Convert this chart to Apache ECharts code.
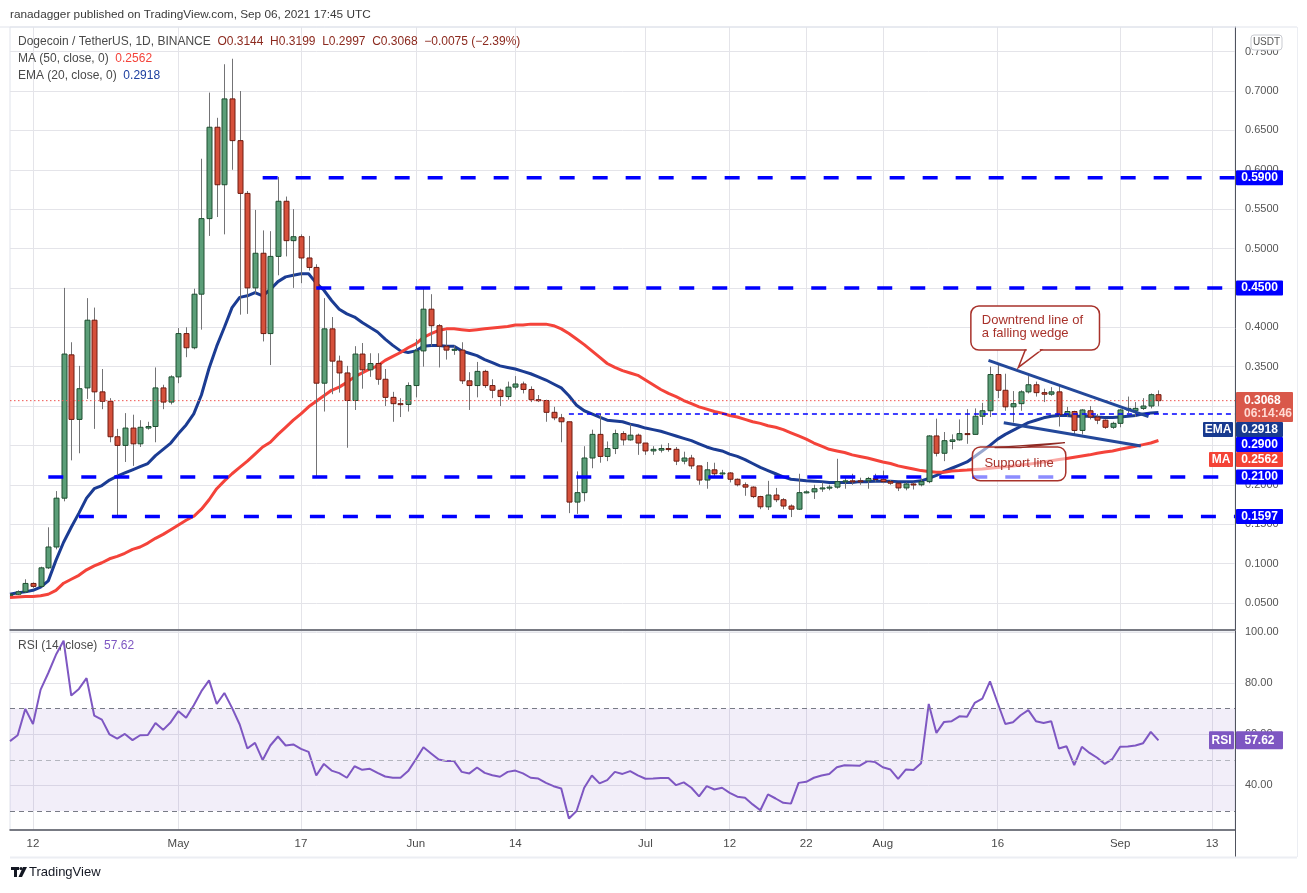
<!DOCTYPE html>
<html><head><meta charset="utf-8">
<script src="https://cdn.jsdelivr.net/npm/echarts@6/dist/echarts.min.js"></script>
<style>html,body{margin:0;padding:0;background:#fff}#c{width:1307px;height:893px}</style>
</head><body><div id="c"></div>
<script>
// ---------- DATA (daily, Apr 9 2021 -> Sep 6 2021) ----------
const startDate = [2021, 3, 9];
const categoryCount = 161; // through Sep 16 (empty space on the right)
const openP = [
0.060,0.061,0.064,0.0747,0.071,0.0945,0.121,0.183,0.365,0.283,
0.323,0.409,0.318,0.306,0.261,0.250,0.272,0.252,0.272,0.274,
0.323,0.305,0.337,0.392,0.374,0.442,0.538,0.654,0.581,0.690,
0.637,0.570,0.450,0.494,0.392,0.490,0.560,0.510,0.515,0.488,
0.476,0.329,0.398,0.357,0.342,0.307,0.366,0.346,0.354,0.334,
0.311,0.303,0.302,0.326,0.370,0.423,0.402,0.376,0.371,0.371,
0.332,0.326,0.344,0.326,0.320,0.312,0.324,0.328,0.321,0.308,
0.307,0.292,0.285,0.280,0.178,0.190,0.234,0.264,0.236,0.246,
0.265,0.257,0.263,0.253,0.243,0.244,0.246,0.245,0.230,0.234,
0.224,0.206,0.219,0.214,0.215,0.207,0.200,0.197,0.185,0.172,
0.187,0.181,0.173,0.169,0.190,0.191,0.195,0.196,0.197,0.204,
0.205,0.205,0.205,0.208,0.207,0.204,0.202,0.196,0.201,0.200,
0.204,0.262,0.240,0.255,0.257,0.265,0.264,0.287,0.294,0.340,
0.320,0.299,0.303,0.318,0.327,0.317,0.315,0.318,0.289,0.293,
0.269,0.294,0.286,0.282,0.273,0.278,0.295,0.294,0.297,0.300,
0.3144];
const highP = [
0.062,0.066,0.080,0.076,0.096,0.146,0.192,0.450,0.381,0.351,
0.437,0.425,0.347,0.310,0.271,0.291,0.289,0.282,0.280,0.349,
0.327,0.339,0.399,0.400,0.449,0.614,0.698,0.666,0.734,0.741,
0.700,0.573,0.549,0.523,0.522,0.591,0.566,0.550,0.518,0.516,
0.480,0.437,0.413,0.364,0.351,0.376,0.380,0.367,0.367,0.347,
0.318,0.310,0.330,0.385,0.451,0.442,0.404,0.396,0.377,0.381,
0.343,0.356,0.346,0.334,0.322,0.331,0.338,0.331,0.325,0.314,
0.308,0.299,0.290,0.280,0.217,0.249,0.270,0.290,0.255,0.270,
0.268,0.277,0.265,0.253,0.249,0.251,0.253,0.248,0.242,0.238,
0.224,0.229,0.228,0.219,0.216,0.208,0.203,0.198,0.186,0.205,
0.196,0.183,0.175,0.214,0.193,0.200,0.203,0.200,0.233,0.210,
0.214,0.209,0.210,0.214,0.218,0.206,0.202,0.203,0.203,0.208,
0.263,0.284,0.267,0.264,0.283,0.296,0.297,0.304,0.350,0.352,
0.341,0.319,0.320,0.338,0.331,0.322,0.324,0.327,0.299,0.294,
0.296,0.300,0.290,0.283,0.280,0.296,0.312,0.305,0.310,0.316,
0.3199];
const lowP = [
0.059,0.060,0.063,0.069,0.070,0.093,0.118,0.179,0.231,0.240,
0.309,0.271,0.296,0.254,0.160,0.229,0.224,0.248,0.270,0.254,
0.296,0.302,0.329,0.362,0.372,0.397,0.516,0.540,0.518,0.600,
0.416,0.417,0.442,0.382,0.352,0.466,0.490,0.450,0.456,0.472,
0.210,0.293,0.315,0.317,0.247,0.295,0.322,0.337,0.327,0.300,
0.280,0.286,0.293,0.311,0.350,0.376,0.349,0.359,0.365,0.328,
0.295,0.311,0.323,0.310,0.300,0.308,0.321,0.316,0.305,0.305,
0.280,0.282,0.254,0.164,0.163,0.179,0.221,0.228,0.230,0.239,
0.250,0.256,0.238,0.238,0.238,0.241,0.242,0.225,0.226,0.220,
0.200,0.195,0.209,0.210,0.203,0.198,0.186,0.183,0.169,0.168,
0.178,0.169,0.159,0.168,0.189,0.182,0.191,0.193,0.195,0.195,
0.200,0.200,0.195,0.204,0.202,0.200,0.192,0.193,0.194,0.198,
0.202,0.236,0.230,0.245,0.256,0.252,0.264,0.276,0.286,0.310,
0.294,0.279,0.294,0.316,0.312,0.305,0.313,0.274,0.286,0.264,
0.264,0.283,0.277,0.271,0.271,0.273,0.291,0.286,0.295,0.297,
0.2997];
const closeP = [
0.061,0.064,0.0747,0.071,0.0945,0.121,0.183,0.366,0.283,0.322,
0.409,0.318,0.306,0.261,0.250,0.272,0.252,0.273,0.274,0.323,
0.305,0.337,0.392,0.374,0.442,0.538,0.654,0.581,0.690,0.637,
0.570,0.450,0.494,0.392,0.490,0.560,0.510,0.515,0.488,0.476,
0.329,0.398,0.357,0.342,0.307,0.366,0.346,0.354,0.334,0.311,
0.303,0.302,0.326,0.370,0.423,0.402,0.376,0.371,0.372,0.332,
0.326,0.344,0.326,0.320,0.312,0.324,0.328,0.321,0.308,0.307,
0.292,0.285,0.280,0.178,0.190,0.234,0.264,0.236,0.246,0.265,
0.257,0.263,0.253,0.243,0.245,0.246,0.2455,0.230,0.234,0.224,
0.206,0.219,0.214,0.215,0.207,0.200,0.197,0.185,0.172,0.187,
0.181,0.173,0.169,0.190,0.191,0.195,0.196,0.197,0.204,0.205,
0.204,0.204,0.208,0.207,0.204,0.202,0.196,0.201,0.200,0.204,
0.262,0.240,0.256,0.257,0.265,0.264,0.287,0.294,0.340,0.320,
0.299,0.303,0.318,0.327,0.317,0.315,0.318,0.289,0.293,0.269,
0.295,0.286,0.282,0.273,0.278,0.295,0.297,0.297,0.300,0.3144,
0.3068];
const ema20 = [
0.061,0.063,0.064,0.066,0.070,0.078,0.104,0.127,0.146,0.164,
0.183,0.195,0.199,0.206,0.211,0.215,0.219,0.223,0.227,0.237,
0.245,0.253,0.265,0.276,0.290,0.314,0.348,0.376,0.400,0.425,
0.438,0.440,0.444,0.440,0.448,0.458,0.464,0.466,0.468,0.468,
0.456,0.447,0.434,0.423,0.417,0.413,0.406,0.400,0.394,0.385,
0.377,0.370,0.368,0.370,0.376,0.377,0.377,0.376,0.376,0.370,
0.367,0.364,0.359,0.355,0.351,0.349,0.347,0.344,0.341,0.337,
0.333,0.328,0.323,0.313,0.301,0.294,0.290,0.286,0.282,0.281,
0.280,0.277,0.275,0.272,0.270,0.268,0.265,0.262,0.259,0.256,
0.252,0.248,0.245,0.243,0.239,0.236,0.232,0.227,0.222,0.218,
0.214,0.210,0.207,0.206,0.205,0.2045,0.204,0.203,0.203,0.203,
0.203,0.204,0.204,0.2045,0.2045,0.2045,0.204,0.204,0.204,0.205,
0.208,0.212,0.217,0.221,0.225,0.229,0.236,0.243,0.250,0.258,
0.264,0.269,0.274,0.279,0.282,0.285,0.287,0.288,0.288,0.287,
0.287,0.287,0.286,0.2855,0.2855,0.286,0.287,0.288,0.290,0.291,
0.2918];
const ma50 = [
0.057,0.0575,0.058,0.058,0.059,0.061,0.066,0.075,0.080,0.085,
0.092,0.097,0.101,0.106,0.109,0.113,0.118,0.121,0.126,0.132,
0.137,0.143,0.149,0.155,0.160,0.169,0.181,0.195,0.205,0.214,
0.222,0.230,0.239,0.248,0.254,0.264,0.273,0.282,0.290,0.299,
0.306,0.313,0.320,0.324,0.330,0.337,0.342,0.347,0.351,0.358,
0.363,0.368,0.374,0.379,0.387,0.392,0.396,0.398,0.398,0.397,
0.396,0.397,0.398,0.399,0.400,0.401,0.403,0.403,0.404,0.404,
0.404,0.402,0.398,0.392,0.385,0.378,0.370,0.362,0.354,0.349,
0.345,0.342,0.339,0.333,0.327,0.321,0.316,0.312,0.307,0.303,
0.299,0.296,0.293,0.291,0.288,0.286,0.283,0.280,0.278,0.275,
0.273,0.270,0.266,0.262,0.258,0.253,0.249,0.245,0.243,0.241,
0.238,0.236,0.234,0.2315,0.229,0.227,0.224,0.222,0.220,0.218,
0.217,0.216,0.216,0.2175,0.218,0.2187,0.2195,0.220,0.221,0.222,
0.223,0.2237,0.225,0.226,0.2275,0.229,0.2305,0.232,0.2335,0.235,
0.2365,0.238,0.240,0.2415,0.243,0.245,0.247,0.249,0.251,0.253,
0.2562];
const rsi14 = [
57.3,59.6,69.9,64.0,77.4,83.9,91.0,96.5,75.1,77.7,
81.9,67.3,65.7,59.9,58.3,60.1,57.7,59.6,59.7,64.4,
61.7,64.7,69.0,66.4,71.3,76.8,81.0,71.8,76.1,70.3,
63.8,54.4,56.6,49.9,55.6,59.1,55.6,56.0,54.3,53.1,
43.9,48.4,45.8,44.8,43.0,47.5,46.1,46.5,44.9,43.5,
43.0,43.0,45.6,50.1,54.9,52.5,50.1,49.5,49.5,45.3,
44.7,47.0,44.9,44.0,43.4,45.3,45.8,44.7,43.0,42.7,
41.0,39.7,38.8,27.1,30.0,39.1,43.9,40.8,42.1,45.3,
44.5,45.6,43.9,42.6,42.7,42.9,42.9,40.1,41.2,39.1,
35.7,39.7,38.4,39.1,37.1,35.6,35.2,32.6,30.3,36.5,
34.9,33.2,32.9,41.0,41.4,43.0,43.9,44.5,47.1,47.9,
47.8,47.7,49.5,49.1,47.1,46.2,42.6,46.2,46.0,48.7,
71.8,60.5,64.8,65.1,67.0,66.8,72.2,73.9,80.6,72.2,
64.0,64.7,67.4,69.4,65.1,64.4,65.1,54.4,55.3,47.9,
55.1,52.7,50.8,48.4,50.4,55.1,55.2,55.6,56.5,60.9,
57.62];
// horizontal levels drawn by the author
const levelValues = [0.59, 0.45, 0.21, 0.1597];
const levelStartIdx = [33, 40, 5, 9];
const wedgeBreakLevel = 0.29;
const wedgeBreakStart = 73;
// falling wedge trendlines [dayIndex, price]
const wedgeUpper = [[127.8, 0.358], [148.7, 0.2865]];
const wedgeLower = [[129.8, 0.2788], [147.7, 0.2492]];
// axis ticks
const priceTicks = [0.05,0.10,0.15,0.20,0.25,0.30,0.35,0.40,0.45,0.50,0.55,0.60,0.65,0.70,0.75];
const rsiTicks = [40, 60, 80, 100];
const xTickIdx = [3, 22, 38, 53, 66, 83, 94, 104, 114, 129, 145, 157];
const xTickLabels = ['12','May','17','Jun','14','Jul','12','22','Aug','16','Sep','13'];
const countdownText = '06:14:46';

// ---------- BUILD ----------
const cats = [];
for (let k = 0; k < categoryCount; k++) {
  const d = new Date(Date.UTC(startDate[0], startDate[1], startDate[2] + k));
  cats.push(d.toISOString().slice(0, 10));
}
const tickSet = new Set(xTickIdx);
const labelMap = {}; xTickIdx.forEach((i, k) => labelMap[i] = xTickLabels[k]);
const lastIdx = closeP.length - 1;
const lastClose = closeP[lastIdx];
const candleData = openP.map((o, i) => [i, o, highP[i], lowP[i], closeP[i]]);

const PMIN = 0.01559, PMAX = 0.7813;
const RMIN = 22.6, RMAX = 100.3;
const FONT = '"Liberation Sans", Arial, sans-serif';
const GRID = '#e4e4e9';
const EMA_C = '#1b3c93', MA_C = '#f4433a', RSI_C = '#7e57c2', LVL_C = '#0000ff';
const lastX = categoryCount - 1;

function renderCandle(params, api) {
  const i = api.value(0), o = api.value(1), h = api.value(2), l = api.value(3), c = api.value(4);
  const po = api.coord([i, o]), pc = api.coord([i, c]), ph = api.coord([i, h]), pl = api.coord([i, l]);
  const x = Math.round(po[0]) + 0.5;
  const up = c >= o;
  const top = Math.min(po[1], pc[1]), bot = Math.max(po[1], pc[1]);
  return { type: 'group', children: [
    { type: 'line', shape: { x1: x, y1: ph[1], x2: x, y2: pl[1] }, style: { stroke: '#737375', lineWidth: 1 } },
    { type: 'rect', shape: { x: x - 2.5, y: top, width: 5, height: Math.max(bot - top, 1) },
      style: { fill: up ? '#5b9e78' : '#d5503b', stroke: up ? '#1e4f30' : '#6e1c12', lineWidth: 1 } }
  ]};
}

const series = [
  { name: 'EMA', type: 'line', xAxisIndex: 0, yAxisIndex: 0, data: ema20, showSymbol: false, z: 2,
    lineStyle: { color: EMA_C, width: 3 }, silent: true },
  { name: 'MA', type: 'line', xAxisIndex: 0, yAxisIndex: 0, data: ma50, showSymbol: false, z: 2,
    lineStyle: { color: MA_C, width: 3 }, silent: true },
  { name: 'DOGE', type: 'custom', xAxisIndex: 0, yAxisIndex: 0, data: candleData, renderItem: renderCandle,
    encode: { x: 0, y: [1, 2, 3, 4] }, clip: true, z: 3, silent: true },
  { type: 'line', xAxisIndex: 2, yAxisIndex: 0, data: [[0, lastClose], [lastX, lastClose]], showSymbol: false, z: 4,
    lineStyle: { color: '#ef5350', width: 1, type: [1.5, 2.5] }, silent: true },
  { type: 'line', xAxisIndex: 2, yAxisIndex: 0, data: [[wedgeBreakStart, wedgeBreakLevel], [lastX, wedgeBreakLevel]], showSymbol: false, z: 4,
    lineStyle: { color: LVL_C, width: 1.5, type: [5, 4] }, silent: true },
  { type: 'line', xAxisIndex: 2, yAxisIndex: 0, data: wedgeUpper, showSymbol: false, z: 5,
    lineStyle: { color: '#23489a', width: 3 }, silent: true },
  { type: 'line', xAxisIndex: 2, yAxisIndex: 0, data: wedgeLower, showSymbol: false, z: 5,
    lineStyle: { color: '#23489a', width: 3 }, silent: true },
  { name: 'RSI', type: 'line', xAxisIndex: 1, yAxisIndex: 1, data: rsi14, showSymbol: false, z: 3,
    lineStyle: { color: RSI_C, width: 2 }, silent: true,
    markArea: { silent: true, itemStyle: { color: 'rgba(126,87,194,0.10)' }, data: [[{ yAxis: 70 }, { yAxis: 30 }]] },
    markLine: { silent: true, symbol: 'none', label: { show: false },
      data: [
        { yAxis: 70, lineStyle: { color: '#787b86', type: [5, 4], width: 1 } },
        { yAxis: 50, lineStyle: { color: '#b4b6bf', type: [5, 4], width: 1 } },
        { yAxis: 30, lineStyle: { color: '#787b86', type: [5, 4], width: 1 } }
      ] } }
];
levelValues.forEach((v, k) => {
  series.push({ type: 'line', xAxisIndex: 2, yAxisIndex: 0, data: [[levelStartIdx[k], v], [lastX, v]], showSymbol: false, z: 4,
    lineStyle: { color: LVL_C, width: 3.5, type: [15, 18] }, silent: true });
});

const option = {
  animation: false,
  backgroundColor: '#ffffff',
  grid: [
    { left: 10, top: 27, width: 1225, height: 603, show: true, borderColor: '#e0e3eb', borderWidth: 1 },
    { left: 10, top: 631, width: 1225, height: 199, show: true, borderColor: '#e0e3eb', borderWidth: 1 }
  ],
  xAxis: [
    { type: 'category', gridIndex: 0, data: cats, boundaryGap: false,
      axisLine: { show: true, onZero: false, lineStyle: { color: '#50535e', width: 1.5 } }, axisTick: { show: false }, axisLabel: { show: false },
      splitLine: { show: true, interval: (i) => tickSet.has(i), lineStyle: { color: GRID } } },
    { type: 'category', gridIndex: 1, data: cats, boundaryGap: false,
      axisLine: { show: true, onZero: false, lineStyle: { color: '#50535e', width: 1.5 } }, axisTick: { show: false },
      axisLabel: { show: true, interval: (i) => tickSet.has(i), formatter: (v, i) => labelMap[i] || '',
        color: '#4a4a4a', fontSize: 11.5, fontFamily: FONT, margin: 8 },
      splitLine: { show: true, interval: (i) => tickSet.has(i), lineStyle: { color: GRID } } },
    { type: 'value', gridIndex: 0, min: 0, max: lastX, show: false }
  ],
  yAxis: [
    { type: 'value', gridIndex: 0, position: 'right', min: PMIN, max: PMAX,
      axisLine: { show: true, onZero: false, lineStyle: { color: '#50535e' } },
      axisTick: { show: false, customValues: priceTicks },
      axisLabel: { customValues: priceTicks, formatter: (v) => v.toFixed(4), color: '#555', fontSize: 11, fontFamily: FONT, margin: 10 },
      splitLine: { show: true, lineStyle: { color: GRID } } },
    { type: 'value', gridIndex: 1, position: 'right', min: RMIN, max: RMAX,
      axisLine: { show: true, onZero: false, lineStyle: { color: '#50535e' } },
      axisTick: { show: false, customValues: rsiTicks },
      axisLabel: { customValues: rsiTicks, formatter: (v) => v.toFixed(2), color: '#555', fontSize: 11, fontFamily: FONT, margin: 10 },
      splitLine: { show: true, lineStyle: { color: GRID } } }
  ],
  series: series
};

const chart = echarts.init(document.getElementById('c'), null, { renderer: 'canvas', width: 1307, height: 893 });
chart.setOption(option);

// ---------- ANNOTATIONS (anchored through the chart's own axes) ----------
const P = (i, v) => chart.convertToPixel({ xAxisIndex: 2, yAxisIndex: 0 }, [i, v]);
const PY = (v) => chart.convertToPixel({ yAxisIndex: 0 }, v);
const RY = (v) => chart.convertToPixel({ yAxisIndex: 1 }, v);
const G = [];
const txt = (x, y, text, o) => G.push(Object.assign({ type: 'text', x: x, y: y, z: 120,
  style: Object.assign({ text: text, font: '12px ' + FONT, fill: '#333', align: 'left', verticalAlign: 'middle' }, o || {}) }));
const rect = (x, y, w, h, style, r) => G.push({ type: 'rect', z: 110, shape: { x: x, y: y, width: w, height: h, r: r || 0 }, style: style });

// header
txt(10, 15, 'ranadagger published on TradingView.com, Sep 06, 2021 17:45 UTC', { font: '11.8px ' + FONT, fill: '#3a3a3a' });
G.push({ type: 'line', z: 100, shape: { x1: 0, y1: 27, x2: 1297, y2: 27 }, style: { stroke: '#e0e3eb', lineWidth: 1 } });
const legendStyle = (col) => ({ fill: col, fontSize: 12, fontFamily: 'Liberation Sans' });
txt(18, 42, '{a|Dogecoin / TetherUS, 1D, BINANCE}  {b|O0.3144  H0.3199  L0.2997  C0.3068  \u22120.0075 (\u22122.39%)}',
  { rich: { a: legendStyle('#4a4a4a'), b: legendStyle('#8c2a1f') } });
txt(18, 59, '{a|MA (50, close, 0)}  {b|' + ma50[lastIdx].toFixed(4) + '}', { rich: { a: legendStyle('#4a4a4a'), b: legendStyle('#f4433a') } });
txt(18, 76, '{a|EMA (20, close, 0)}  {b|' + ema20[lastIdx].toFixed(4) + '}', { rich: { a: legendStyle('#4a4a4a'), b: legendStyle('#1e40a0') } });
txt(18, 646, '{a|RSI (14, close)}  {b|' + rsi14[lastIdx].toFixed(2) + '}', { rich: { a: legendStyle('#4a4a4a'), b: legendStyle(RSI_C) } });

// USDT badge
rect(1251, 35, 31, 15, { fill: '#fff', stroke: '#c9cbd1', lineWidth: 1 }, 3);
txt(1266.5, 42.5, 'USDT', { font: '10px ' + FONT, fill: '#555', align: 'center' });

// price axis tags (stacked like the platform does)
const tags = [
  { v: levelValues[0], lines: [levelValues[0].toFixed(4)], bg: LVL_C },
  { v: levelValues[1], lines: [levelValues[1].toFixed(4)], bg: LVL_C },
  { v: lastClose, lines: [lastClose.toFixed(4), countdownText], bg: '#d9584a' },
  { v: ema20[lastIdx], lines: [ema20[lastIdx].toFixed(4)], bg: '#183a8f', tag: 'EMA', tagW: 30 },
  { v: wedgeBreakLevel, lines: [wedgeBreakLevel.toFixed(4)], bg: LVL_C },
  { v: ma50[lastIdx], lines: [ma50[lastIdx].toFixed(4)], bg: '#f44336', tag: 'MA', tagW: 24 },
  { v: levelValues[2], lines: [levelValues[2].toFixed(4)], bg: LVL_C },
  { v: levelValues[3], lines: [levelValues[3].toFixed(4)], bg: LVL_C }
].map(t => Object.assign(t, { y: PY(t.v) })).sort((a, b) => a.y - b.y);
let prevBottom = -1e9;
tags.forEach(t => {
  const two = t.lines.length === 2;
  const h = two ? 30 : 15;
  let top = t.y - (two ? 8.7 : 7.5);
  if (top < prevBottom) top = prevBottom;
  prevBottom = top + h;
  const w = two ? 57 : 47;
  rect(1236, top, w, h, { fill: t.bg }, 1);
  if (two) {
    txt(1244, top + 8.5, t.lines[0], { font: 'bold 12px ' + FONT, fill: '#ffffff' });
    txt(1244, top + 21.5, t.lines[1], { font: 'bold 12px ' + FONT, fill: '#ffd9d2' });
  } else {
    txt(1259.5, top + 7.5, t.lines[0], { font: 'bold 12px ' + FONT, fill: '#ffffff', align: 'center' });
  }
  if (t.tag) {
    rect(1233 - t.tagW, top, t.tagW, h, { fill: t.bg }, 1);
    txt(1233 - t.tagW / 2, top + 7.5, t.tag, { font: 'bold 12px ' + FONT, fill: '#ffffff', align: 'center' });
  }
});
// RSI tag
const ry = RY(rsi14[lastIdx]);
rect(1209, ry - 9, 25, 18, { fill: RSI_C }, 1);
txt(1221.5, ry, 'RSI', { font: 'bold 12px ' + FONT, fill: '#fff', align: 'center' });
rect(1236, ry - 9, 47, 18, { fill: RSI_C }, 1);
txt(1259.5, ry, rsi14[lastIdx].toFixed(2), { font: 'bold 12px ' + FONT, fill: '#fff', align: 'center' });

// callout: downtrend line of a falling wedge
const CO = '#a8322b';
(function () {
  const a = P(125.5, 0.427), b = P(142.3, 0.371);
  const tip = P(131.7, 0.349), b1 = P(132.6, 0.371), b2 = P(134.7, 0.371);
  rect(a[0], a[1], b[0] - a[0], b[1] - a[1], { fill: '#ffffff', stroke: CO, lineWidth: 1.5 }, 8);
  G.push({ type: 'polygon', z: 111, shape: { points: [[b1[0], b[1]], [tip[0], tip[1]], [b2[0], b[1]]] }, style: { fill: '#fff', stroke: CO, lineWidth: 1.5 } });
  G.push({ type: 'line', z: 112, shape: { x1: b1[0] + 1.5, y1: b[1], x2: b2[0] - 1.5, y2: b[1] }, style: { stroke: '#fff', lineWidth: 2.5 } });
  txt(a[0] + 11, a[1] + 14.5, 'Downtrend line of', { font: '13px ' + FONT, fill: CO });
  txt(a[0] + 11, a[1] + 27, 'a falling wedge', { font: '13px ' + FONT, fill: CO });
})();
// callout: support line
(function () {
  const a = P(125.7, 0.248), b = P(137.9, 0.205);
  const t1 = P(128.6, 0.2473), tip = P(137.8, 0.2534), t2 = P(132.0, 0.2473);
  G.push({ type: 'polygon', z: 111, shape: { points: [[t1[0], t1[1]], [tip[0], tip[1]], [t2[0], t2[1]]] }, style: { fill: 'rgba(255,255,255,0.6)', stroke: '#8f2a24', lineWidth: 1.3 } });
  rect(a[0], a[1], b[0] - a[0], b[1] - a[1], { fill: 'rgba(255,255,255,0.55)', stroke: CO, lineWidth: 1.5 }, 8);
  txt((a[0] + b[0]) / 2, (a[1] + b[1]) / 2, 'Support line', { font: '13px ' + FONT, fill: CO, align: 'center' });
})();

// frame bits
G.push({ type: 'line', z: 100, shape: { x1: 1235.5, y1: 830, x2: 1235.5, y2: 857 }, style: { stroke: '#50535e', lineWidth: 1 } });
G.push({ type: 'line', z: 100, shape: { x1: 10, y1: 857.5, x2: 1297, y2: 857.5 }, style: { stroke: '#eceef3', lineWidth: 2 } });
G.push({ type: 'line', z: 100, shape: { x1: 1297.5, y1: 27, x2: 1297.5, y2: 857 }, style: { stroke: '#eceef3', lineWidth: 1 } });
// logo
rect(11, 867, 8, 3, { fill: '#131722' });
rect(14, 867, 3, 10, { fill: '#131722' });
G.push({ type: 'circle', z: 110, shape: { cx: 21, cy: 868.5, r: 1.6 }, style: { fill: '#131722' } });
G.push({ type: 'polygon', z: 110, shape: { points: [[23, 867], [27, 867], [22, 877], [18.5, 877]] }, style: { fill: '#131722' } });
txt(29, 872, 'TradingView', { font: '13px ' + FONT, fill: '#131722' });

chart.setOption({ graphic: G });
</script>
</body></html>
